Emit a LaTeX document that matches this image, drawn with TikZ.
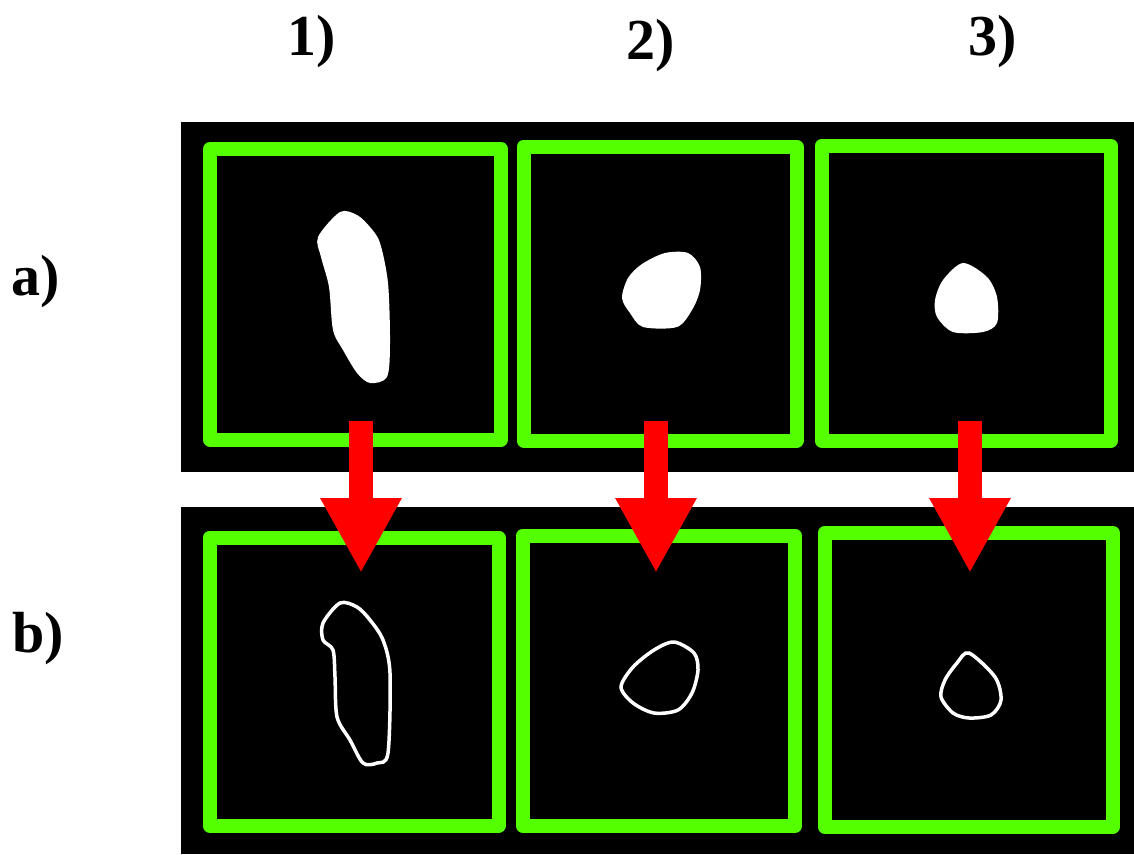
\documentclass[tikz,border=0pt]{standalone}
\usepackage{fontspec}
\setmainfont{Liberation Serif}
\usetikzlibrary{arrows.meta}
\definecolor{boxgreen}{RGB}{84,255,0}
\definecolor{arrowred}{RGB}{255,0,0}

\begin{document}
\begin{tikzpicture}[x=1pt, y=-1pt,
		frame/.style={draw=boxgreen, line width=14pt, line join=round},
		blob/.style={fill=white},
		rim/.style={draw=white, line width=3.5pt},
		heading/.style={font=\fontsize{58}{62}\selectfont\bfseries, anchor=base},
		redarrow/.style={draw=arrowred, line width=24pt, -{Triangle[length=75pt, width=76pt]}}]
			%%%%% START %%%%%
			
			\useasboundingbox (0, 0) rectangle (1134, 854);
			
			\node[heading] (col1) at (312, 55) {1)};
			\node[heading] (col2) at (651, 59) {2)};
			\node[heading] (col3) at (993, 55) {3)};
			\node[heading] (rowa) at (36, 295) {a)};
			\node[heading] (rowb) at (38, 652) {b)};
			
			\fill[black] (181, 122) rectangle (1134, 472);
			\fill[black] (181, 507) rectangle (1134, 854);
			
			\draw[frame] (210, 149) rectangle (501, 439.5);
			\draw[frame] (523.5, 146.5) rectangle (796.5, 440.5);
			\draw[frame] (821.5, 146) rectangle (1111, 440.5);
			
			\draw[frame] (209.5, 537.5) rectangle (498.5, 825.5);
			\draw[frame] (523, 535.5) rectangle (795, 826);
			\draw[frame] (824.5, 533) rectangle (1113, 826.5);
			
			\fill[blob] plot[smooth cycle, tension=0.5] coordinates {(340,212) (357,215) (370,227) (380,243) (388,283) (390,343) (387,377) (370,383) (357,373) (343,350) (333,330) (329,287) (321,257) (318,237)};
			\fill[blob] plot[smooth cycle, tension=0.5] coordinates {(665,253) (688,253) (700,267) (700,290) (692,310) (677,327) (643,327) (630,313) (622,298) (628,278) (642,264)};
			\fill[blob] plot[smooth cycle, tension=0.5] coordinates {(963,263) (987,277) (997,297) (997,323) (983,332) (953,332) (937,317) (935,300) (943,280)};
			
			\draw[rim] plot[smooth cycle, tension=0.5] coordinates {(340,603) (357,607) (370,620) (383,640) (390,673) (388,753) (377,763) (363,763) (350,740) (337,717) (335,677) (333,650) (323,640) (323,623)};
			\draw[rim] plot[smooth cycle, tension=0.5] coordinates {(674,642) (694,653) (698,670) (692,693) (678,710) (654,713) (633,703) (621,687) (633,667) (654,650)};
			\draw[rim] plot[smooth cycle, tension=0.5] coordinates {(969,653) (995,677) (1001,700) (991,715) (969,718) (953,713) (941,697) (945,680) (957,663)};
			
			\foreach \x/\n in {361/1, 656/2, 970/3} {
				\coordinate (top\n) at (\x, 421);
				\coordinate (tip\n) at (\x, 573);
				\draw[redarrow] (top\n) -- (tip\n);
			}
			
			%%%%% END %%%%%
\end{tikzpicture}
\end{document}
